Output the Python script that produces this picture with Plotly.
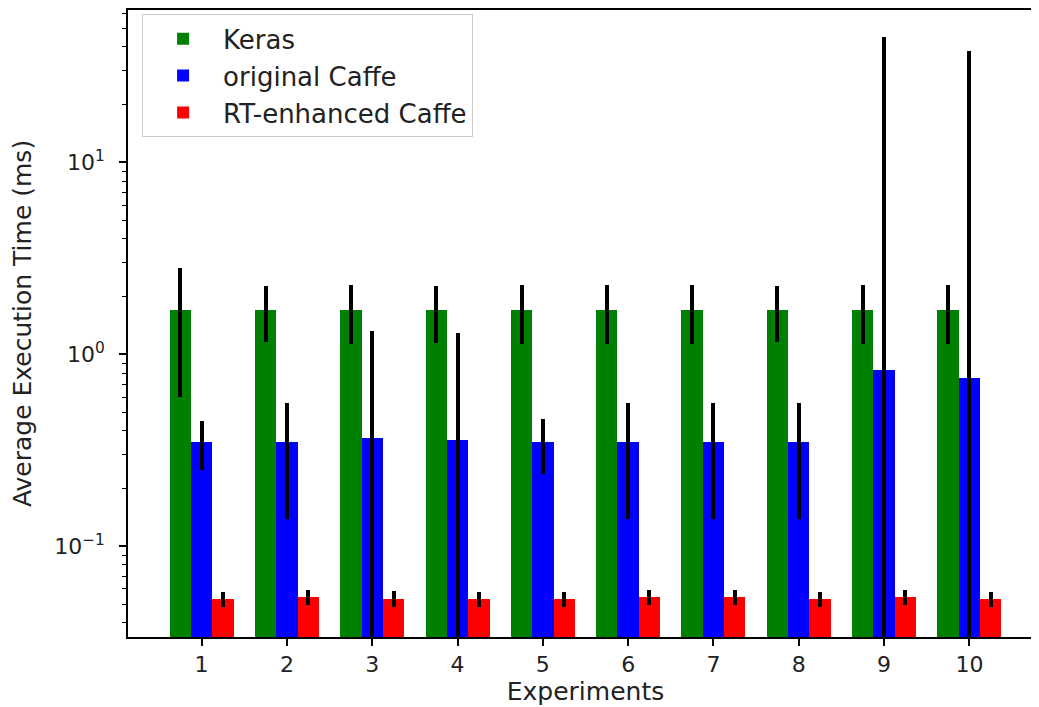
import plotly.graph_objects as go

experiments = [1, 2, 3, 4, 5, 6, 7, 8, 9, 10]
keras_mean = [1.71, 1.71, 1.71, 1.71, 1.71, 1.71, 1.71, 1.71, 1.71, 1.71]
keras_err = [1.11, 0.55, 0.58, 0.56, 0.58, 0.58, 0.58, 0.55, 0.58, 0.58]
orig_mean = [0.349, 0.349, 0.365, 0.357, 0.349, 0.349, 0.349, 0.349, 0.832, 0.756]
orig_err = [0.10, 0.21, 0.96, 0.93, 0.11, 0.21, 0.21, 0.21, 44.0, 37.5]
rt_mean = [0.0534, 0.0544, 0.0534, 0.0534, 0.0534, 0.0544, 0.0544, 0.0534, 0.0544, 0.0534]
rt_err = [0.0048, 0.0048, 0.0050, 0.0048, 0.0048, 0.0048, 0.0048, 0.0048, 0.0048, 0.0048]

series_names = ["Keras", "original Caffe", "RT-enhanced Caffe"]
series_colors = ["#008000", "#0000ff", "#ff0000"]
offsets = [-0.25, 0.0, 0.25]
bar_width = 0.25

FONT = "DejaVu Sans"
TXT = "#222"

fig = go.Figure()
for name, color, off, means, errs in zip(series_names, series_colors, offsets,
                                          [keras_mean, orig_mean, rt_mean],
                                          [keras_err, orig_err, rt_err]):
    fig.add_trace(go.Bar(
        x=[e + off for e in experiments], y=means, width=bar_width, name=name,
        marker=dict(color=color, line=dict(width=0)),
        error_y=dict(type="data", array=errs, visible=True, color="black",
                     thickness=4, width=0),
    ))

fig.update_layout(
    width=1039, height=707,
    margin=dict(l=120, r=4, t=2, b=78, autoexpand=False),
    plot_bgcolor="white", paper_bgcolor="white",
    font=dict(family=FONT, size=21, color=TXT),
    bargap=0, barmode="overlay",
    showlegend=True,
    legend=dict(x=0.0154, y=0.993, xanchor="left", yanchor="top",
                bgcolor="rgba(255,255,255,0.8)", bordercolor="#cccccc", borderwidth=1,
                font=dict(family=FONT, size=26, color=TXT), tracegroupgap=0,
                itemwidth=70),
    xaxis=dict(range=[0.1375, 10.8625], tickvals=experiments,
               ticktext=[str(e) for e in experiments], automargin=False,
               showline=True, linecolor="black", linewidth=1.5, mirror=True,
               ticks="outside", ticklen=7, tickwidth=1.5, tickcolor="black",
               showgrid=False, zeroline=False,
               tickfont=dict(family=FONT, size=22, color=TXT),
               title=dict(text="Experiments", font=dict(family=FONT, size=25, color=TXT), standoff=6)),
    yaxis=dict(type="log", range=[-1.472, 1.794], automargin=False,
               tickvals=[0.1, 1, 10],
               ticktext=["10<sup>−1</sup>", "10<sup>0</sup>", "10<sup>1</sup>"],
               showline=True, linecolor="black", linewidth=1.5, mirror=False,
               ticks="outside", ticklen=7, tickwidth=1.5, tickcolor="black",
               ticklabelstandoff=10,
               minor=dict(ticks="outside", ticklen=4, tickwidth=1, tickcolor="black",
                          dtick="D1", showgrid=False),
               showgrid=False, zeroline=False,
               tickfont=dict(family=FONT, size=22, color=TXT),
               title=dict(text="Average Execution Time (ms)", font=dict(family=FONT, size=25, color=TXT), standoff=20)),
)

fig.write_html("out.html")
